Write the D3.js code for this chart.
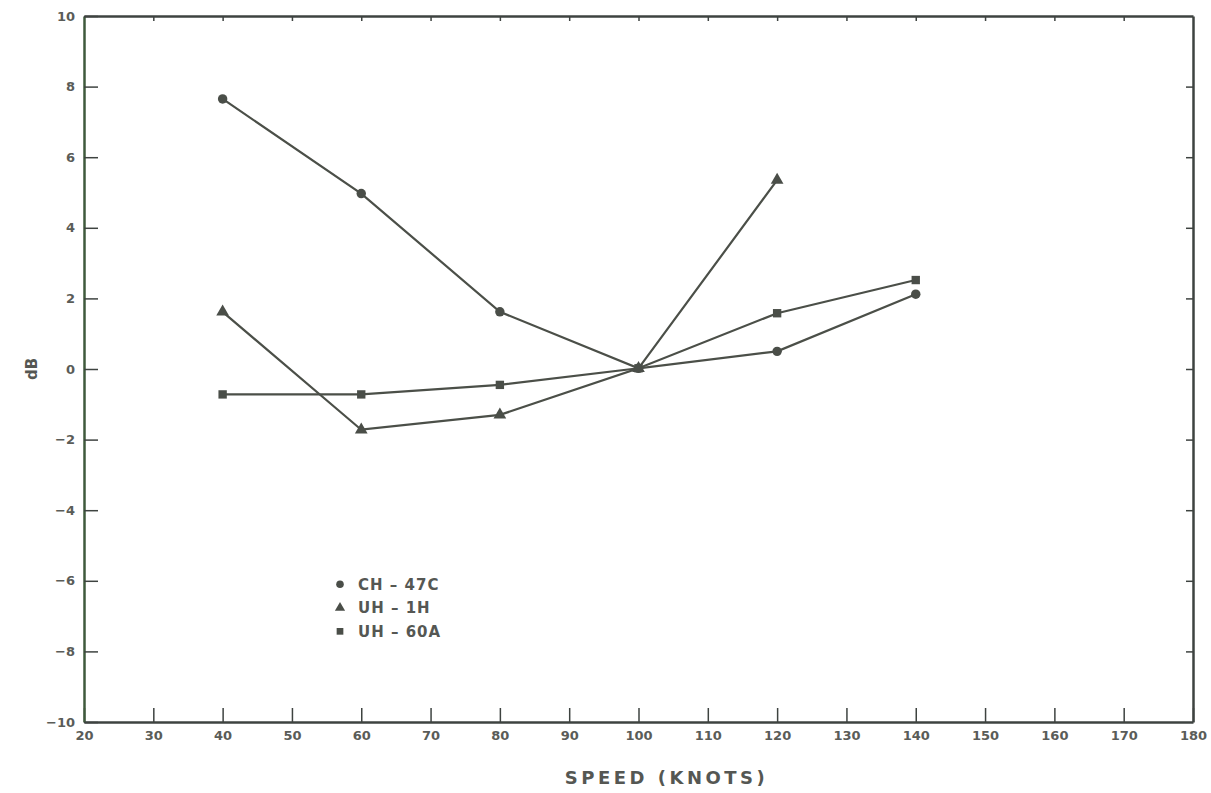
<!DOCTYPE html>
<html>
<head>
<meta charset="utf-8">
<script src="https://cdn.jsdelivr.net/npm/d3@7"></script>
<style>
  body { margin: 0; background: #fff; }
  text { font-family: 'DejaVu Sans', sans-serif; fill: #555753; font-weight: bold; }
</style>
</head>
<body>
<div id="chart"></div>
<script>
const speeds = [40, 60, 80, 100, 120, 140];
const ch47c = [7.65, 4.97, 1.62, 0.02, 0.5, 2.12];
const uh1h = [1.62, -1.72, -1.3, 0.02, 5.35];
const uh60a = [-0.72, -0.72, -0.45, 0.02, 1.58, 2.52];
const xTicks = d3.range(20, 181, 10);
const yTicks = d3.range(-10, 11, 2);

const series = [
  {name: 'CH-47C', shape: d3.symbolCircle, values: ch47c},
  {name: 'UH-1H', shape: d3.symbolTriangle, values: uh1h},
  {name: 'UH-60A', shape: d3.symbolSquare, values: uh60a}
];

const W = 1211, H = 793;
const margin = {top: 16, right: 18, bottom: 71, left: 84};
const width = W - margin.left - margin.right,
  height = H - margin.top - margin.bottom;

const x = d3.scaleLinear().domain([20, 180]).range([0, width]);
const y = d3.scaleLinear().domain([-10, 10]).range([height, 0]);

const svg = d3.select('#chart').append('svg')
    .attr('width', W)
    .attr('height', H)
  .append('g')
    .attr('transform', `translate(${margin.left},${margin.top})`);

const ink = '#3e4340';

// frame + ticks
const axBottom = svg.append('g')
    .attr('transform', `translate(0,${height})`)
    .call(d3.axisBottom(x).tickValues(xTicks).tickSizeInner(-14).tickSizeOuter(0).tickPadding(9));
const axLeft = svg.append('g')
    .call(d3.axisLeft(y).tickValues(yTicks).tickSizeInner(-14).tickSizeOuter(0).tickPadding(9)
      .tickFormat(d => d < 0 ? '\u2212' + Math.abs(d) : d));
const axTop = svg.append('g')
    .call(d3.axisTop(x).tickValues(xTicks.slice(1, -1)).tickSizeInner(-5).tickSizeOuter(0).tickFormat(''));
const axRight = svg.append('g')
    .attr('transform', `translate(${width},0)`)
    .call(d3.axisRight(y).tickValues(yTicks.slice(1, -1)).tickSizeInner(-7).tickSizeOuter(0).tickFormat(''));

[axBottom, axLeft, axTop, axRight].forEach(g => {
  g.select('.domain').attr('stroke', ink).attr('stroke-width', 2.5);
  g.selectAll('.tick line').attr('stroke', ink).attr('stroke-width', 1.5);
  g.selectAll('.tick text').style('font-size', '13px').style('fill', '#5a5c58');
});
axLeft.select('.domain').attr('stroke', '#3f5a3c');

// lines
const line = d3.line()
  .x((d, i) => x(speeds[i]))
  .y(d => y(d));

series.forEach(s => {
  svg.append('path')
    .datum(s.values)
    .attr('fill', 'none')
    .attr('stroke', '#4b4f48')
    .attr('stroke-width', 2.2)
    .attr('d', line);
  svg.selectAll(null)
    .data(s.values)
    .enter().append('path')
    .attr('transform', (d, i) => `translate(${x(speeds[i])},${y(d)})`)
    .attr('d', d3.symbol().type(s.shape).size(70))
    .attr('fill', '#4a4e48');
});

// legend
const legend = svg.append('g')
  .attr('transform', `translate(${x(20) + 256},${y(-6.1)})`);
series.forEach((s, i) => {
  const g = legend.append('g').attr('transform', `translate(0,${i * 23.5})`);
  g.append('path')
    .attr('d', d3.symbol().type(s.shape).size(45))
    .attr('fill', '#4a4e48');
  g.append('text')
    .attr('x', 18)
    .attr('dy', '0.36em')
    .style('font-size', '15px')
    .style('letter-spacing', '1px')
    .text(s.name.replace('-', ' \u2013 '));
});

// axis titles
svg.append('text')
  .attr('x', x(100) + 28)
  .attr('y', height + 62)
  .attr('text-anchor', 'middle')
  .style('font-size', '18px')
  .style('letter-spacing', '3.5px')
  .text('SPEED (KNOTS)');

svg.append('text')
  .attr('transform', `translate(${-47},${y(0)}) rotate(-90)`)
  .attr('text-anchor', 'middle')
  .style('font-size', '15px')
  .text('dB');
</script>
</body>
</html>
